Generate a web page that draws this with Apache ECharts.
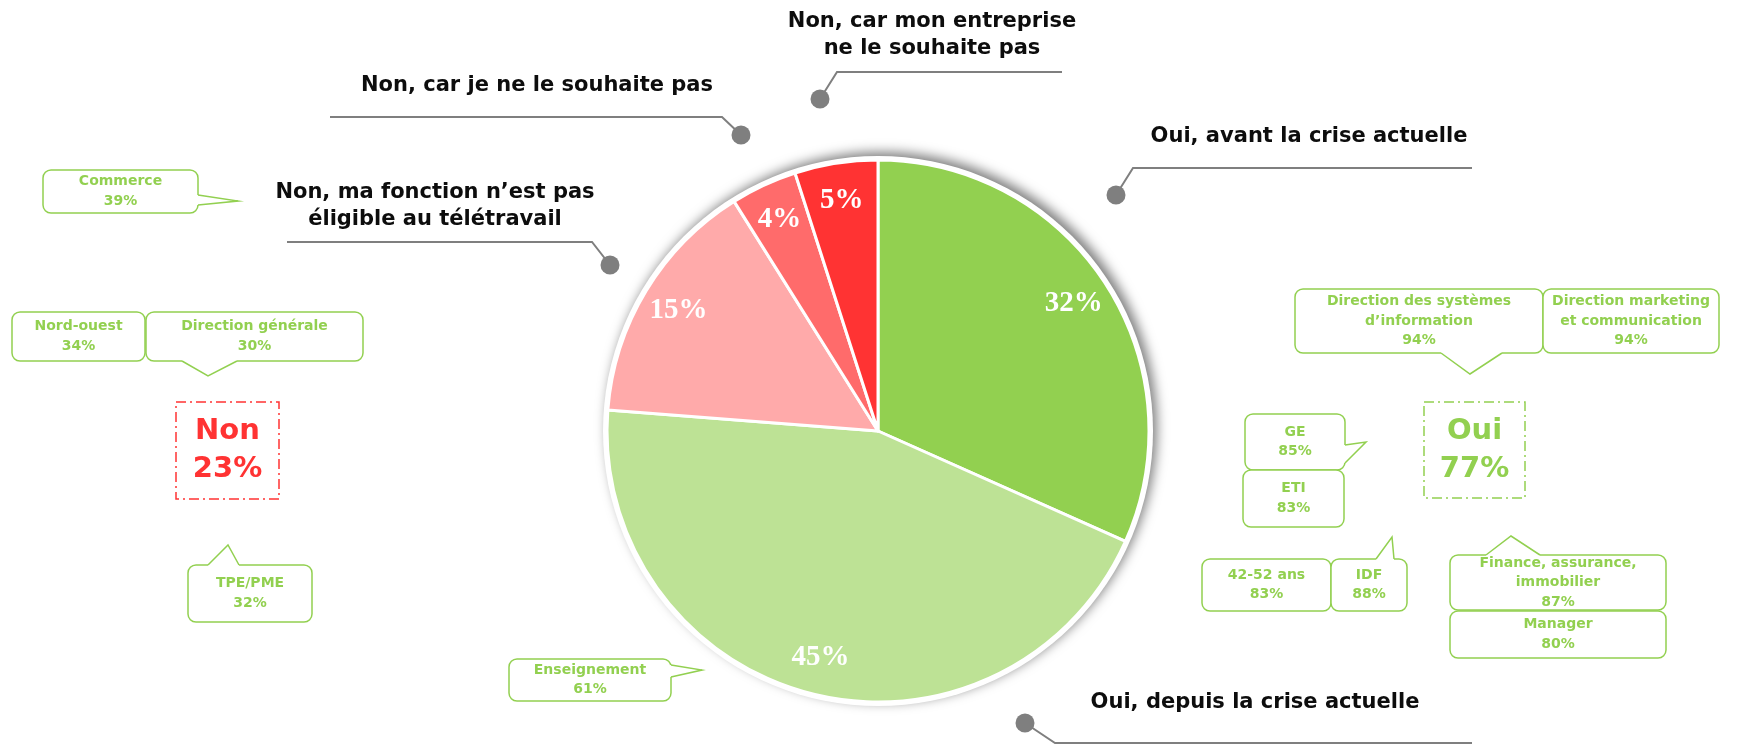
<!DOCTYPE html>
<html>
<head>
<meta charset="utf-8">
<script src="https://cdn.jsdelivr.net/npm/echarts@6/dist/echarts.min.js"></script>
<style>html,body{margin:0;padding:0;background:#fff}#chart{width:1749px;height:745px}</style>
</head>
<body>
<div id="chart"></div>
<script>
// ---- Data ----
const categories = [
  'Oui, avant la crise actuelle',
  'Oui, depuis la crise actuelle',
  'Non, ma fonction n’est pas\néligible au télétravail',
  'Non, car je ne le souhaite pas',
  'Non, car mon entreprise\nne le souhaite pas'
];
const values = [32, 45, 15, 4, 5];
const totalLabels = ['Oui', 'Non'];
const totalValues = [77, 23];
const ouiSegments = ['Direction des systèmes\nd’information', 'Direction marketing\net communication', 'GE', 'ETI', '42-52 ans', 'IDF', 'Finance, assurance,\nimmobilier', 'Manager', 'Enseignement'];
const ouiSegmentValues = [94, 94, 85, 83, 83, 88, 87, 80, 61];
const nonSegments = ['Commerce', 'Nord-ouest', 'Direction générale', 'TPE/PME'];
const nonSegmentValues = [39, 34, 30, 32];

// ---- Styles / layout ----
const sliceColors = ['#92D050', '#BDE295', '#FFAAAA', '#FF6B6B', '#FF3333'];
const GREEN = '#92D050', RED = '#FF3333', GREY = '#7F7F7F';
const CX = 878, CY = 431, R = 271;
const sansBold = '"DejaVu Sans", "Liberation Sans", sans-serif';

// category label layout: text center, line polyline (ending at dot)
const catLayout = [
  {tx: 1309, ty: 137, pts: [[1472,168],[1133,168],[1116,195]]},
  {tx: 1255, ty: 703, pts: [[1472,743],[1055,743],[1025,723]]},
  {tx: 435, ty: 206, pts: [[287,242],[592,242],[610,265]]},
  {tx: 537, ty: 86, pts: [[330,117],[722,117],[741,135]]},
  {tx: 932, ty: 35, pts: [[1062,72],[837,72],[820,99]]}
];
// callout boxes: [x1,y1,x2,y2], tail [b1, tip, b2]
const ouiLayout = [
  {box:[1295,289,1543,353], tail:[[1441,353],[1470,374],[1502,353]]},
  {box:[1543,289,1719,353], tail:null},
  {box:[1245,414,1345,470], tail:[[1345,445],[1366,442],[1345,463]]},
  {box:[1243,470,1344,527], tail:null},
  {box:[1202,559,1331,611], tail:null},
  {box:[1331,559,1407,611], tail:[[1376,559],[1392,537],[1394,559]]},
  {box:[1450,555,1666,610], tail:[[1486,555],[1511,536],[1540,555]]},
  {box:[1450,611,1666,658], tail:null},
  {box:[509,659,671,701], tail:[[671,665],[702,670],[671,677]]}
];
const nonLayout = [
  {box:[43,170,198,213], tail:[[198,195],[238,201],[198,205]]},
  {box:[12,312,145,361], tail:null},
  {box:[146,312,363,361], tail:[[182,361],[208,376],[237,361]]},
  {box:[188,565,312,622], tail:[[208,565],[228,545],[239,565]]}
];
const totalLayout = [
  {box:[1424,402,1525,498], color: GREEN},
  {box:[176,402,279,499], color: RED}
];

const graphics = [];
function callout(lay, text) {
  const [x1,y1,x2,y2] = lay.box;
  graphics.push({type:'rect', z:10, shape:{x:x1,y:y1,width:x2-x1,height:y2-y1,r:8},
    style:{fill:'#fff', stroke:GREEN, lineWidth:1.5}});
  if (lay.tail) {
    const t = lay.tail;
    graphics.push({type:'polygon', z:11, shape:{points:t}, style:{fill:'#fff', stroke:null}});
    graphics.push({type:'line', z:11, shape:{x1:t[0][0],y1:t[0][1],x2:t[2][0],y2:t[2][1]}, style:{stroke:'#fff', lineWidth:3}});
    graphics.push({type:'polyline', z:12, shape:{points:t}, style:{stroke:GREEN, lineWidth:1.5, fill:null}});
  }
  graphics.push({type:'text', z:13, x:(x1+x2)/2, y:(y1+y2)/2,
    style:{text:text, fill:GREEN, font:'bold 14px ' + sansBold, align:'center', verticalAlign:'middle',
      textAlign:'center', textVerticalAlign:'middle', lineHeight:19.5}});
}
ouiSegments.forEach((s,i) => callout(ouiLayout[i], s + '\n' + ouiSegmentValues[i] + '%'));
nonSegments.forEach((s,i) => callout(nonLayout[i], s + '\n' + nonSegmentValues[i] + '%'));
totalLabels.forEach((s,i) => {
  const L = totalLayout[i]; const [x1,y1,x2,y2] = L.box;
  graphics.push({type:'rect', z:10, shape:{x:x1,y:y1,width:x2-x1,height:y2-y1},
    style:{fill:'#fff', stroke:L.color, lineWidth:1.5, lineDash:[10,4,2,4]}});
  graphics.push({type:'text', z:13, x:(x1+x2)/2, y:(y1+y2)/2,
    style:{text:s + '\n' + totalValues[i] + '%', fill:L.color, font:'bold 29px ' + sansBold,
      align:'center', verticalAlign:'middle', textAlign:'center', textVerticalAlign:'middle', lineHeight:38}});
});
categories.forEach((c,i) => {
  const L = catLayout[i];
  graphics.push({type:'polyline', z:5, shape:{points:L.pts}, style:{stroke:GREY, lineWidth:2, fill:null}});
  const d = L.pts[L.pts.length-1];
  graphics.push({type:'circle', z:6, shape:{cx:d[0], cy:d[1], r:9.5}, style:{fill:GREY}});
  graphics.push({type:'text', z:7, x:L.tx, y:L.ty,
    style:{text:c, fill:'#0D0D0D', font:'bold 21px ' + sansBold, align:'center', verticalAlign:'middle',
      textAlign:'center', textVerticalAlign:'middle', lineHeight:27}});
});

const pieData = categories.map((c,i) => ({name:c, value:values[i], itemStyle:{color:sliceColors[i]}}));

const chart = echarts.init(document.getElementById('chart'), null, {renderer:'canvas'});
chart.setOption({
  animation: false,
  backgroundColor: '#fff',
  graphic: graphics,
  series: [
    {type:'pie', name:'fond', silent:true, z:1, center:[CX,CY], radius:R+4,
     data:[{value:1, name:'fond'}],
     itemStyle:{color:'#fff', shadowBlur:12, shadowColor:'rgba(0,0,0,0.5)', shadowOffsetX:4, shadowOffsetY:-4},
     label:{show:false}, labelLine:{show:false}, emphasis:{disabled:true}},
    {type:'pie', name:'Télétravail', z:2, center:[CX,CY], radius:R, startAngle:90, clockwise:true,
     data:pieData, itemStyle:{borderColor:'#fff', borderWidth:3},
     label:{show:false}, labelLine:{show:false}},
    {type:'pie', name:'labels', z:3, silent:true, center:[CX,CY], radius:[R*0.7, R], startAngle:90, clockwise:true,
     data:pieData.map(d => ({name:d.name, value:d.value, itemStyle:{color:'rgba(0,0,0,0)'}})),
     label:{show:true, position:'inside', formatter:'{c}%', color:'#fff',
       fontFamily:'"Liberation Serif", "DejaVu Serif", serif', fontWeight:'bold', fontSize:29},
     labelLine:{show:false}, emphasis:{disabled:true}}
  ]
});
</script>
</body>
</html>
